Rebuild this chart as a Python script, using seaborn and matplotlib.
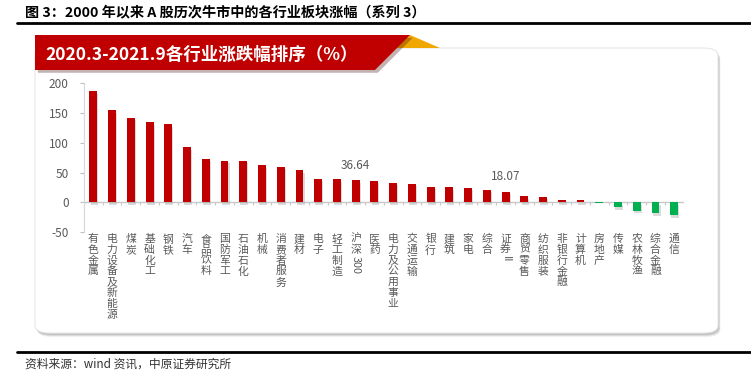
import numpy as np
import pandas as pd
import matplotlib
matplotlib.use("Agg")
import matplotlib.pyplot as plt
import matplotlib.patheffects as pe
from matplotlib.patches import FancyBboxPatch, Polygon
import seaborn as sns

categories = ["有色金属", "电力设备及新能源", "煤炭", "基础化工", "钢铁", "汽车", "食品饮料",
              "国防军工", "石油石化", "机械", "消费者服务", "建材", "电子", "轻工制造",
              "沪深300", "医药", "电力及公用事业", "交通运输", "银行", "建筑", "家电", "综合",
              "证券II", "商贸零售", "纺织服装", "非银行金融", "计算机", "房地产", "传媒",
              "农林牧渔", "综合金融", "通信"]
values = [186.5, 155.0, 142.0, 134.5, 131.0, 92.4, 72.8, 69.8, 69.8, 62.0, 60.0, 54.0,
          39.5, 38.6, 36.64, 35.8, 33.0, 31.0, 26.4, 25.2, 24.3, 20.8, 18.07, 10.0, 9.0,
          4.5, 3.4, -1.2, -8.4, -14.0, -18.5, -22.0]
labelled = {"沪深300": "36.64", "证券II": "18.07"}
yticks = [-50, 0, 50, 100, 150, 200]

title = "图 3：2000 年以来 A 股历次牛市中的各行业板块涨幅（系列 3）"
banner = "2020.3-2021.9各行业涨跌幅排序（%）"
source = "资料来源：wind 资讯，中原证券研究所"

RED = "#C00000"
GREEN = "#00B050"
GREY = "#595959"

sns.set_theme(style="white")
plt.rcParams["font.family"] = ["Noto Sans CJK SC", "DejaVu Sans"]

W, H = 751, 377
fig = plt.figure(figsize=(W / 100, H / 100), dpi=100)


def fx(px):
    return px / W


def fy(py):
    return 1 - py / H


# page title and rules
fig.text(fx(25), fy(12), title, fontsize=10.2, fontweight="bold", color="black",
         va="center", ha="left")
fig.add_artist(plt.Line2D([fx(17), fx(751)], [fy(22.5), fy(22.5)], color="black",
                          lw=2, transform=fig.transFigure))
fig.add_artist(plt.Line2D([fx(17), fx(751)], [fy(352), fy(352)], color="black",
                          lw=2, transform=fig.transFigure))
fig.text(fx(25), fy(364), source, fontsize=8.5, color="#333333", va="center", ha="left")

# panel with shadow
for k, a in [(4, 0.15), (3, 0.25), (2, 0.35)]:
    sh = FancyBboxPatch((fx(35 + k * 0.6), fy(333 + k)), fx(718) - fx(35), fy(48) - fy(333),
                        boxstyle="round,pad=0,rounding_size=0.02",
                        transform=fig.transFigure, facecolor="#999999",
                        edgecolor="none", alpha=a, zorder=0)
    fig.add_artist(sh)
panel = FancyBboxPatch((fx(35), fy(333)), fx(718) - fx(35), fy(48) - fy(333),
                       boxstyle="round,pad=0,rounding_size=0.02",
                       transform=fig.transFigure, facecolor="white",
                       edgecolor="#E6E6E6", lw=0.8, zorder=0.5)
fig.add_artist(panel)

# banner
ytri = Polygon([(fx(410), fy(35)), (fx(440), fy(48)), (fx(392), fy(48))],
               closed=True, transform=fig.transFigure, facecolor="#F0A800",
               edgecolor="none", zorder=1)
fig.add_artist(ytri)
red = Polygon([(fx(35), fy(35)), (fx(410), fy(35)), (fx(375), fy(70)), (fx(35), fy(70))],
              closed=True, transform=fig.transFigure, facecolor=RED, edgecolor="none",
              zorder=1.2,
              path_effects=[pe.SimplePatchShadow(offset=(2, -2), alpha=0.3), pe.Normal()])
fig.add_artist(red)
fig.text(fx(45), fy(55), banner, fontsize=12.6, fontweight="bold", color="white",
         va="center", ha="left", zorder=2)

# chart axes
ax = fig.add_axes([fx(84), fy(232), fx(683.6) - fx(84), fy(83.3) - fy(232)])
ax.set_facecolor("none")
ax.set_zorder(3)

df = pd.DataFrame({"cat": categories, "val": values})
colors = [RED if v >= 0 else GREEN for v in values]
sns.barplot(data=df, x="cat", y="val", hue="cat", palette=colors, legend=False,
            width=0.42, ax=ax, saturation=1, linewidth=0, edgecolor="none")
for p in ax.patches:
    p.set_path_effects([pe.SimplePatchShadow(offset=(0.8, -1.8), shadow_rgbFace="#888888",
                                             alpha=0.3), pe.Normal()])
    p.set_zorder(3)

n = len(categories)
ax.set_xlim(-0.5, n - 0.5)
ax.set_ylim(-50, 200)
ax.set_yticks(yticks)
ax.set_yticklabels([str(t) for t in yticks], fontsize=8.5, color=GREY)
ax.tick_params(axis="y", length=3, color="#BFBFBF", width=0.8, pad=8, left=True)
ax.set_xticks([])
ax.set_xlabel("")
ax.set_ylabel("")
for s in ["top", "right", "bottom"]:
    ax.spines[s].set_visible(False)
ax.spines["left"].set_color("#D9D9D9")
ax.spines["left"].set_linewidth(0.9)

ax.axhline(0, color="#C8C8C8", lw=1.0, zorder=2)
ax.vlines(np.arange(n + 1) - 0.5, -4, 0, color="#C8C8C8", lw=0.8, zorder=2)

# value annotations
for i, (c, v) in enumerate(zip(categories, values)):
    if c in labelled:
        ax.annotate(labelled[c], xy=(i, v), xytext=(0, 6), textcoords="offset points",
                    ha="center", va="bottom", fontsize=8.5, color=GREY)

# vertical category labels
PT = 72 / 100  # points per pixel
xt = ax.get_xaxis_transform()
for i, name in enumerate(categories):
    segs = []
    buf = ""
    for ch in name:
        if ord(ch) < 128:
            buf += ch
        else:
            if buf:
                segs.append(buf)
                buf = ""
            segs.append(ch)
    if buf:
        segs.append(buf)
    off = 2.0
    for seg in segs:
        if ord(seg[0]) < 128:
            ax.annotate(seg, xy=(i, 0), xycoords=xt, xytext=(0, -off * PT),
                        textcoords="offset points", ha="center", va="top",
                        rotation=-90, fontsize=7.8, color=GREY, annotation_clip=False)
            off += len(seg) * 6.2 + 2
        else:
            ax.annotate(seg, xy=(i, 0), xycoords=xt, xytext=(0, -off * PT),
                        textcoords="offset points", ha="center", va="top",
                        fontsize=7.8, color=GREY, annotation_clip=False)
            off += 10.8

fig.savefig("out.png", dpi=100)
